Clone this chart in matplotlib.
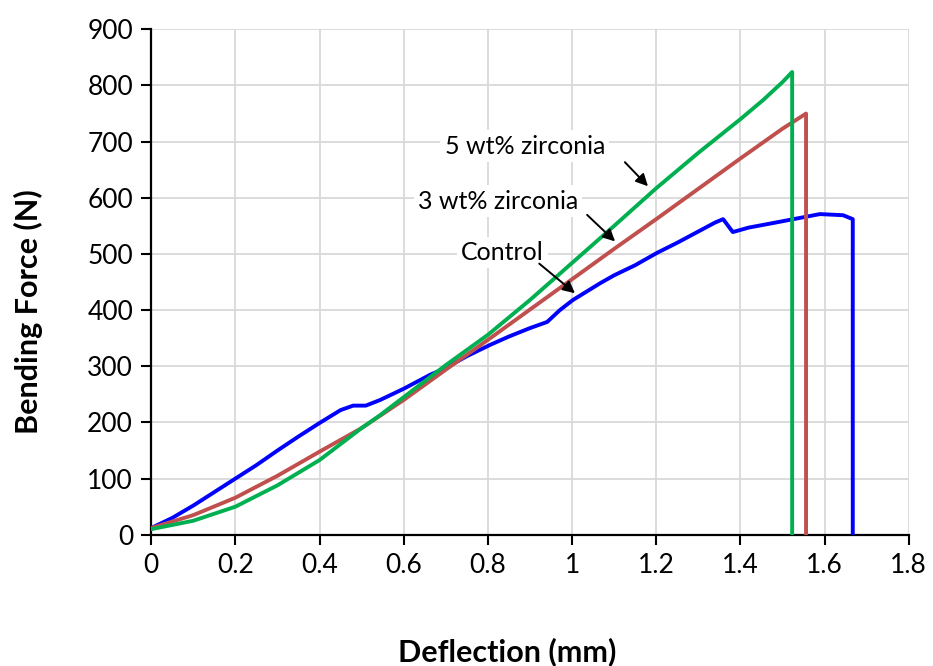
import numpy as np
import matplotlib.pyplot as plt

plt.rcParams['font.family'] = ['Lato', 'DejaVu Sans']

# Control (blue)
ctrl_x = [0, 0.05, 0.1, 0.15, 0.2, 0.25, 0.3, 0.35, 0.4, 0.45, 0.48, 0.51, 0.544, 0.6,
          0.663, 0.7, 0.75, 0.805, 0.85, 0.9, 0.941, 0.971, 1.002, 1.067, 1.1, 1.15,
          1.202, 1.25, 1.3, 1.34, 1.359, 1.382, 1.42, 1.477, 1.54, 1.589, 1.644, 1.667, 1.667]
ctrl_y = [12, 30, 52, 76, 100, 124, 150, 175, 199, 222, 230, 230, 240, 260,
          285, 297, 318, 338, 353, 368, 379, 400, 418, 448, 462, 480,
          502, 520, 540, 556, 562, 539, 547, 555, 564, 571, 569, 562, 0]

# 3 wt% zirconia (red)
zr3_x = [0, 0.1, 0.2, 0.3, 0.4, 0.5, 0.6, 0.7, 0.8, 0.9, 1.0, 1.1, 1.2, 1.3, 1.4, 1.5, 1.556, 1.556]
zr3_y = [12, 35, 66, 105, 148, 190, 240, 294, 347, 401, 455, 509, 562, 616, 670, 723, 750, 0]

# 5 wt% zirconia (green)
zr5_x = [0, 0.1, 0.2, 0.3, 0.4, 0.5, 0.544, 0.6, 0.7, 0.8, 0.9, 1.0, 1.1, 1.2, 1.3, 1.4, 1.454, 1.5, 1.523, 1.523]
zr5_y = [10, 25, 50, 88, 133, 190, 213, 245, 302, 356, 418, 484, 550, 617, 680, 740, 774, 806, 824, 0]

labels = ['5 wt% zirconia', '3 wt% zirconia', 'Control']
label_pos = [(0.888, 692), (0.824, 594), (0.834, 503)]
arrow_tail = [(1.121, 667), (1.031, 573), (0.917, 486)]
arrow_head = [(1.185, 617), (1.107, 519), (1.012, 427)]

fig = plt.figure(figsize=(9.33, 6.66), dpi=100)
ax = fig.add_axes([0.162, 0.197, 0.812, 0.759])

ax.plot(ctrl_x, ctrl_y, color='#0000FF', lw=2.8, zorder=3)
ax.plot(zr3_x, zr3_y, color='#C0504D', lw=2.8, zorder=3)
ax.plot(zr5_x, zr5_y, color='#00B050', lw=2.8, zorder=3)

for lab, pos, tail, head in zip(labels, label_pos, arrow_tail, arrow_head):
    ax.text(pos[0], pos[1], lab, fontsize=18, ha='center', va='center', zorder=4,
            bbox=dict(facecolor='white', edgecolor='none', pad=3))
    ax.annotate('', xy=head, xytext=tail, zorder=5,
                arrowprops=dict(arrowstyle='-|>', color='black', lw=1.4, mutation_scale=18))

ax.set_xlim(0, 1.8)
ax.set_ylim(0, 900)
ax.set_xticks(np.arange(0, 1.81, 0.2))
ax.set_xticklabels(['0', '0.2', '0.4', '0.6', '0.8', '1', '1.2', '1.4', '1.6', '1.8'])
ax.set_yticks(np.arange(0, 901, 100))
ax.grid(True, color='#D9D9D9', lw=1.3)
ax.set_axisbelow(True)
for s in ['top', 'right']:
    ax.spines[s].set_visible(False)
for s in ['left', 'bottom']:
    ax.spines[s].set_linewidth(1.6)
ax.tick_params(direction='out', length=7, width=1.5, labelsize=19, pad=6)

fig.text(507 / 933, 1 - 652 / 666, 'Deflection (mm)', fontsize=22, fontweight='bold',
         ha='center', va='center')
fig.text(28 / 933, 1 - 312 / 666, 'Bending Force (N)', fontsize=22, fontweight='bold',
         ha='center', va='center', rotation=90)

fig.savefig('out.png', dpi=100)
